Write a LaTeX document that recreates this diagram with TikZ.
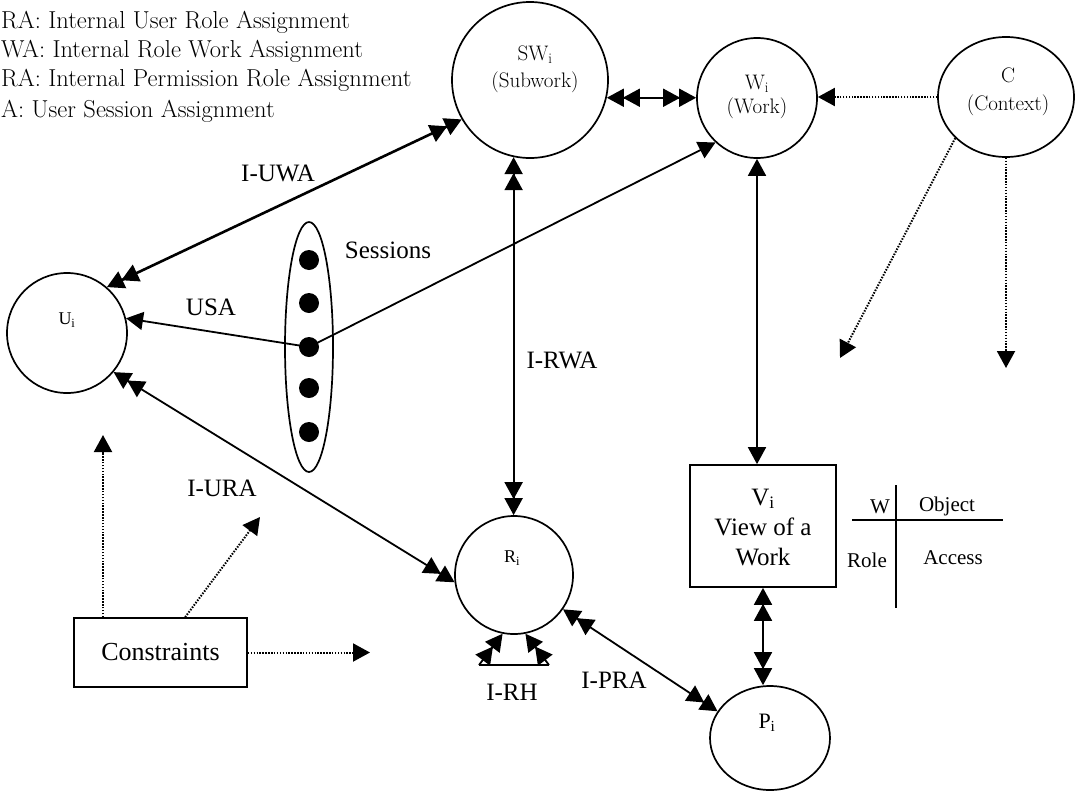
\documentclass[tikz,border=0pt]{standalone}
\usepackage{fontspec}
\setmainfont{Liberation Serif}
\newfontfamily\thinserif{Latin Modern Roman}
\usetikzlibrary{arrows.meta,shapes.geometric,calc}
\begin{document}
\begin{tikzpicture}[x=1pt,y=-1pt,
  every node/.style={inner sep=0pt},
  ring/.style={draw,circle,line width=1.7pt,inner sep=0pt},
  oval/.style={draw,ellipse,line width=1.7pt,inner sep=0pt},
  boxed/.style={draw,rectangle,line width=1.7pt},
  sdot/.style={circle,fill,minimum size=20pt},
  lab/.style={font=\fontsize{25}{30}\selectfont},
  leg/.style={font=\thinserif\fontsize{24.5}{29}\selectfont,anchor=base west},
  klab/.style={font=\thinserif\fontsize{21}{25}\selectfont},
  small/.style={font=\fontsize{18}{22}\selectfont},
  tbl/.style={font=\fontsize{21}{25}\selectfont},
  link/.style={line width=1.8pt},
  dotline/.style={line width=2pt,dash pattern=on 1.5pt off 1.4pt},
  tri/.tip={Triangle[length=17pt,width=18pt]},
  dtri/.tip={Triangle[length=17pt,width=18pt,sep=-1pt]Triangle[length=17pt,width=18pt]},
]
\useasboundingbox (0,0) rectangle (1086,790);

% legend
\node[leg] (lg1) at (1,28) {RA: Internal User Role Assignment};
\node[leg] (lg2) at (1,57) {WA: Internal Role Work Assignment};
\node[leg] (lg3) at (1,86) {RA: Internal Permission Role Assignment};
\node[leg] (lg4) at (1,117) {A: User Session Assignment};

% works and context
\node[ring,minimum size=156pt] (SW) at (530,80) {};
\node[klab] (SWa) at (535,55) {SW\textsubscript{i}};
\node[klab] (SWb) at (535,82) {(Subwork)};
\node[ring,minimum size=120pt] (W) at (757,98) {};
\node[klab] (Wa) at (757,84) {W\textsubscript{i}};
\node[klab] (Wb) at (757,108) {(Work)};
\node[oval,minimum width=136pt,minimum height=120pt] (C) at (1006,97) {};
\node[klab] (Ca) at (1008,75) {C};
\node[klab] (Cb) at (1008,105) {(Context)};

% user and sessions
\node[ring,minimum size=120pt] (U) at (67,333) {};
\node[small] (Ut) at (67,320) {U\textsubscript{i}};
\node[oval,minimum width=48pt,minimum height=250pt] (S) at (309,347) {};
\node[sdot] (s1) at (309,260) {};
\node[sdot] (s2) at (309,303) {};
\node[sdot] (s3) at (309,347) {};
\node[sdot] (s4) at (309,388) {};
\node[sdot] (s5) at (309,432) {};

% role, permission, view
\node[ring,minimum size=118pt] (R) at (514,575) {};
\node[small] (Rt) at (512,558) {R\textsubscript{i}};
\node[oval,minimum width=120pt,minimum height=104pt] (P) at (770,738) {};
\node[font=\fontsize{22}{26}\selectfont] (Pt) at (767,723) {P\textsubscript{i}};
\node[boxed,minimum width=146pt,minimum height=122pt] (V) at (763,526) {};
\node[lab,align=center] (Vt) at (763,527) {V\textsubscript{i}\\View of a\\Work};
\node[boxed,minimum width=173pt,minimum height=69pt,font=\fontsize{26}{30}\selectfont] (K) at (160.5,652.5) {Constraints};

% access table
\coordinate (tv1) at (896,485);
\coordinate (tv2) at (896,608);
\coordinate (th1) at (852,520);
\coordinate (th2) at (1003,520);
\draw[line width=1.6pt] (tv1) -- (tv2);
\draw[line width=1.6pt] (th1) -- (th2);
\node[tbl] (tW) at (880,507) {W};
\node[tbl] (tO) at (947,506) {Object};
\node[tbl] (tR) at (867,560) {Role};
\node[tbl] (tA) at (953,558) {Access};

% labels
\node[lab] (lUWA) at (278,173) {I-UWA};
\node[lab] (lSes) at (388,250) {Sessions};
\node[lab] (lUSA) at (211,307) {USA};
\node[lab] (lRWA) at (562,360) {I-RWA};
\node[lab] (lURA) at (222,488) {I-URA};
\node[lab] (lPRA) at (614,680) {I-PRA};
\node[lab] (lRH) at (512,692) {I-RH};

% solid connectors
\draw[link,line width=2.6pt,dtri-dtri] (U.49) -- (SW.210);
\draw[link,-tri] (s3.center) -- (U.14);
\draw[link,-tri] (s3.center) -- (W.227);
\draw[link,dtri-dtri] (U.-40) -- (R.187);
\draw[link,dtri-dtri] (SW.258) -- (SW.258 |- R.north);
\draw[link,dtri-dtri] (SW.-13) -- (SW.-13 -| W.west);
\draw[link,tri-tri] (W.south) -- (W.south |- V.north);
\draw[link,dtri-dtri] (V.south) -- (V.south |- P.north);
\draw[link,dtri-dtri] (R.-35) -- (P.153);

% role hierarchy
\coordinate (rhL) at (479,665);
\coordinate (rhR) at (549,665);
\draw[link] (rhL) -- (rhR);
\draw[link,-dtri] (rhL) -- (R.259);
\draw[link,-dtri] (rhR) -- (R.281);

% dotted influences
\coordinate (cd) at (840,358);
\coordinate (cv) at (1006,368);
\coordinate (ku) at (103,435);
\coordinate (kd) at (260,517);
\coordinate (kdo) at ($(K.north west)+(112,0)$);
\coordinate (kr) at (370,652.5);
\draw[dotline,-tri] (C.west) -- (C.west -| W.east);
\draw[dotline,-tri] (C.219) -- (cd);
\draw[dotline,-tri] (C.south) -- (cv);
\draw[dotline,-tri] (ku |- K.north) -- (ku);
\draw[dotline,-tri] (kdo) -- (kd);
\draw[dotline,-tri] (K.east) -- (kr);
\end{tikzpicture}
\end{document}
